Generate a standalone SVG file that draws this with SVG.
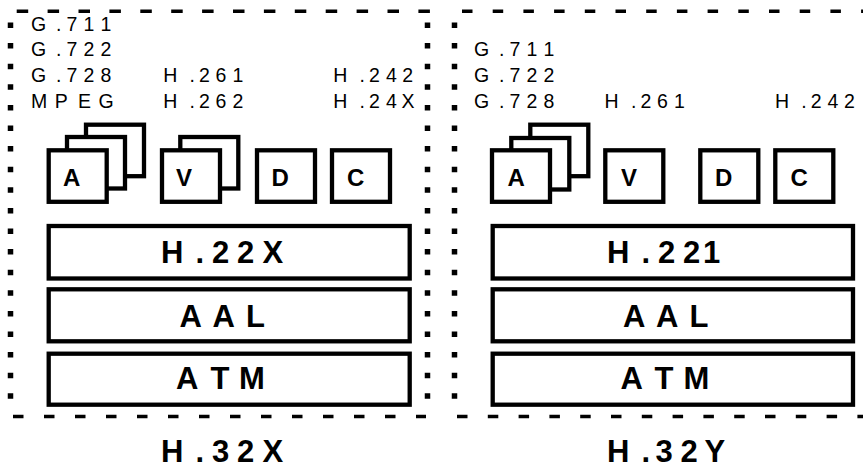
<svg xmlns="http://www.w3.org/2000/svg" width="863" height="466" viewBox="0 0 863 466">
<style>
.bx{fill:#fff;stroke:#000;stroke-width:4.3}
.hd{fill:none;stroke:#000;stroke-width:3.5}
.vd{fill:none;stroke:#000;stroke-width:5.5;stroke-dasharray:5.5 15.1}
.sm{font-family:"Liberation Sans",Arial,sans-serif;font-size:19.5px;fill:#000}
.lb{font-family:"Liberation Sans",Arial,sans-serif;font-size:24px;font-weight:bold;fill:#000}
.bg{font-family:"Liberation Sans",Arial,sans-serif;font-size:31px;font-weight:bold;fill:#000}
</style>
<rect width="863" height="466" fill="#fff"/>
<g id="frames">
<line class="hd" x1="16.7" y1="11.3" x2="432" y2="11.3" stroke-dasharray="11.5 19.4"/>
<line class="hd" x1="13" y1="416.5" x2="426" y2="416.5" stroke-dasharray="10.5 20.5"/>
<line class="vd" x1="10.5" y1="22.5" x2="10.5" y2="402"/>
<line class="vd" x1="427.5" y1="22.5" x2="427.5" y2="402"/>
<line class="hd" x1="462" y1="11.3" x2="863" y2="11.3" stroke-dasharray="10.5 20.2"/>
<line class="hd" x1="457" y1="416.5" x2="863" y2="416.5" stroke-dasharray="10.5 20.3"/>
<line class="vd" x1="454.5" y1="22.5" x2="454.5" y2="402"/>
</g>
<g id="left-codecs">
<text class="sm" x="31 56 66.5 83.5 100.5" y="31.3">G.711</text>
<text class="sm" x="31 56 66.5 83.5 100.5" y="56.3">G.722</text>
<text class="sm" x="31 56 66.5 83.5 100.5" y="82">G.728</text>
<text class="sm" x="31 54.8 78 98.5" y="108">MPEG</text>
<text class="sm" x="163.2 189.5 199 215.6 232.4" y="82">H.261</text>
<text class="sm" x="163.2 189.5 199 215.6 232.4" y="108">H.262</text>
<text class="sm" x="333.2 359.5 369 386 402.3" y="82">H.242</text>
<text class="sm" x="333.2 359.5 369 386 401.4" y="108">H.24X</text>
</g>
<g id="right-codecs">
<text class="sm" x="474 499 509.5 526.5 543.5" y="56.3">G.711</text>
<text class="sm" x="474 499 509.5 526.5 543.5" y="82">G.722</text>
<text class="sm" x="474 499 509.5 526.5 543.5" y="108">G.728</text>
<text class="sm" x="604.6 631 640.4 657 674" y="108">H.261</text>
<text class="sm" x="775 801.3 810.7 827.6 844" y="108">H.242</text>
</g>
<g id="left-A">
<rect class="bx" x="86" y="124.7" width="58" height="51.5"/>
<rect class="bx" x="67" y="137" width="58" height="51.5"/>
<rect class="bx" x="48.7" y="150.3" width="58" height="51.5"/>
<text class="lb" x="63" y="185.5">A</text>
</g>
<g id="left-V">
<rect class="bx" x="180.3" y="137" width="58" height="51.5"/>
<rect class="bx" x="162" y="150.3" width="58" height="51.5"/>
<text class="lb" x="176" y="185.5">V</text>
</g>
<g id="left-D">
<rect class="bx" x="257" y="150.3" width="58" height="51.5"/>
<text class="lb" x="271.5" y="185.5">D</text>
</g>
<g id="left-C">
<rect class="bx" x="332" y="150.3" width="58" height="51.5"/>
<text class="lb" x="347" y="185.5">C</text>
</g>
<g id="left-H22X">
<rect class="bx" x="48.7" y="226" width="361" height="52.5"/>
<text class="bg" x="161 195.5 212 237 262.5" y="262.5">H.22X</text>
</g>
<g id="left-AAL">
<rect class="bx" x="48.7" y="289.3" width="361" height="52"/>
<text class="bg" x="179.5 212.5 246" y="326.5">AAL</text>
</g>
<g id="left-ATM">
<rect class="bx" x="48.7" y="353.7" width="361" height="51"/>
<text class="bg" x="176 210.5 239" y="389">ATM</text>
</g>
<g id="right-A">
<rect class="bx" x="530.3" y="124.7" width="58" height="51.5"/>
<rect class="bx" x="511.3" y="138" width="58" height="51.5"/>
<rect class="bx" x="492" y="150.3" width="58" height="51.5"/>
<text class="lb" x="507.5" y="185.5">A</text>
</g>
<g id="right-V">
<rect class="bx" x="605.3" y="150.3" width="58" height="51.5"/>
<text class="lb" x="621" y="185.5">V</text>
</g>
<g id="right-D">
<rect class="bx" x="700.3" y="150.3" width="58" height="51.5"/>
<text class="lb" x="715" y="185.5">D</text>
</g>
<g id="right-C">
<rect class="bx" x="775.3" y="150.3" width="58" height="51.5"/>
<text class="lb" x="790.5" y="185.5">C</text>
</g>
<g id="right-H221">
<rect class="bx" x="492.7" y="226" width="360.3" height="52.5"/>
<text class="bg" x="607 641.5 658 683 703" y="262.5">H.221</text>
</g>
<g id="right-AAL">
<rect class="bx" x="492.7" y="289.3" width="360.3" height="52"/>
<text class="bg" x="623 656 689.5" y="326.5">AAL</text>
</g>
<g id="right-ATM">
<rect class="bx" x="492.7" y="353.7" width="360.3" height="51"/>
<text class="bg" x="620.5 654.5 683.5" y="389">ATM</text>
</g>
<g id="titles">
<text class="bg" x="161 195.5 212 237 262.5" y="461.5">H.32X</text>
<text class="bg" x="607 641.5 655.5 680.5 704.5" y="461.5">H.32Y</text>
</g>
</svg>
